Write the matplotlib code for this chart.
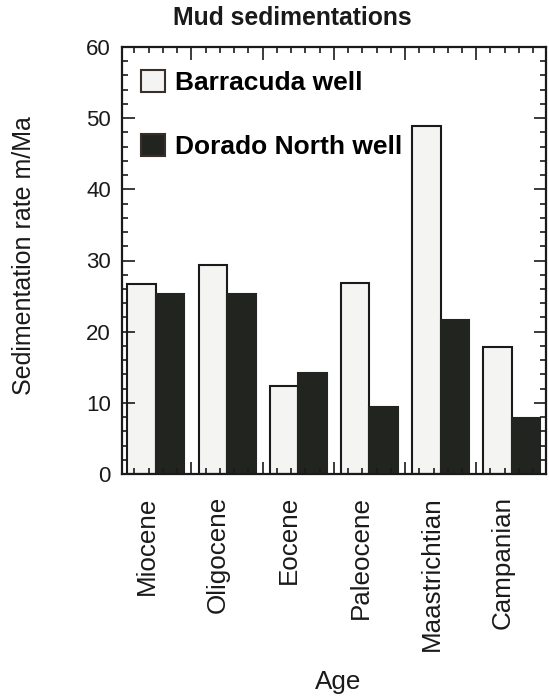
#Mud sedimentation rates for two wells, grouped bar chart by age

import numpy as np
import matplotlib.pyplot as plt
from matplotlib.patches import Patch
from matplotlib.ticker import MultipleLocator, FixedLocator

plt.rcParams['font.family'] = ['Liberation Sans', 'DejaVu Sans']

ages = ['Miocene', 'Oligocene', 'Eocene', 'Paleocene', 'Maastrichtian', 'Campanian']
barracuda = [26.7, 29.4, 12.4, 26.8, 48.9, 17.9]
dorado_north = [25.3, 25.3, 14.2, 9.4, 21.6, 7.9]

x = np.arange(len(ages))
w = 0.4
light = '#f4f4f2'
dark = '#22251f'

fig = plt.figure(figsize=(5.49, 6.97), dpi=100)
ax = fig.add_axes([122/549, 1 - 474/697, 424/549, 427/697])

ax.bar(x - w/2, barracuda, w, color=light, edgecolor='#1a1a1a', linewidth=1.5, label='Barracuda well')
ax.bar(x + w/2, dorado_north, w, color=dark, edgecolor=dark, linewidth=1.5, label='Dorado North well')

ax.set_xlim(-0.475, 5.48)
ax.set_ylim(0, 60)

#ruler style ticks on all four sides, pointing in
ax.yaxis.set_major_locator(MultipleLocator(10))
ax.yaxis.set_minor_locator(MultipleLocator(2))
ax.xaxis.set_major_locator(FixedLocator(np.arange(0.5, 5.0, 1.0)))
ax.xaxis.set_minor_locator(FixedLocator(np.arange(-0.3, 5.4, 0.2)))
ax.tick_params(which='both', direction='in', top=True, right=True, width=1.2, color='#1a1a1a')
ax.tick_params(which='major', length=9)
ax.tick_params(which='minor', length=4.5)
ax.tick_params(axis='y', labelsize=16, pad=8, labelcolor='#1a1a1a')
ax.tick_params(axis='x', labelbottom=False)
for s in ax.spines.values():
    s.set_linewidth(1.6)
    s.set_color('#1a1a1a')

#category names under each group
for xi, name in zip(x, ages):
    ax.text(xi - 0.127, -0.052, name, rotation=90, ha='center', va='top',
            fontsize=18.7, color='#1a1a1a', transform=ax.get_xaxis_transform())

fig.text(24/549, 1 - 256/697, 'Sedimentation rate m/Ma', rotation=90, ha='center', va='center',
         fontsize=18, color='#1a1a1a')
fig.text(338/549, 1 - 682/697, 'Age', ha='center', va='center', fontsize=18.7, color='#1a1a1a')
fig.text(292/549, 1 - 18/697, 'Mud sedimentations', ha='center', va='center',
         fontsize=17.8, fontweight='bold', color='#1a1a1a')

handles = [Patch(facecolor=light, edgecolor='#3a2e2a', linewidth=1.5),
           Patch(facecolor=dark, edgecolor='#3a2e2a', linewidth=1.5)]
ax.legend(handles, ['Barracuda well', 'Dorado North well'], loc='upper left',
          bbox_to_anchor=(0.045, 0.946), frameon=False, borderpad=0, borderaxespad=0,
          handlelength=0.9, handleheight=0.9, handletextpad=0.4, labelspacing=1.47,
          prop={'size': 19, 'weight': 'bold'})

plt.savefig('out.png', dpi=100)
